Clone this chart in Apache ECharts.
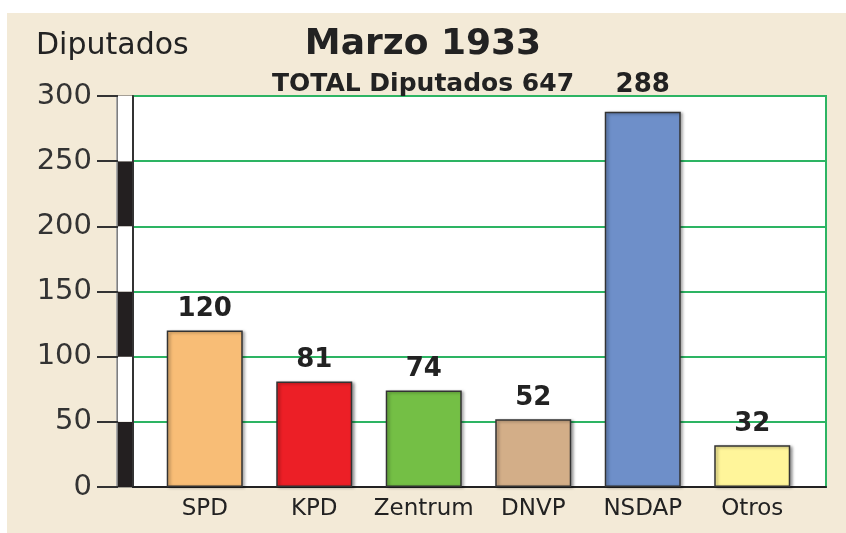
<!DOCTYPE html>
<html>
<head>
<meta charset="utf-8">
<script src="https://cdn.jsdelivr.net/npm/echarts@6/dist/echarts.min.js"></script>
<style>
  html, body { margin: 0; padding: 0; background: #fff; }
  #main { width: 846px; height: 533px; }
</style>
</head>
<body>
<div id="main"></div>
<script>
// datos: elecciones marzo 1933
var partidos = ['SPD', 'KPD', 'Zentrum', 'DNVP', 'NSDAP', 'Otros'];
var diputados = [120, 81, 74, 52, 288, 32];
var colores = ['#f8bd76', '#ec1f26', '#74bf45', '#d3ae88', '#6e8fc9', '#fff59a'];
var yMin = 0, yMax = 300, yPaso = 50;

var fuente = 'DejaVu Sans';
var chart = echarts.init(document.getElementById('main'));
var maximo = Math.max.apply(null, diputados);

var option = {
    backgroundColor: '#fff',
    animation: false,
    graphic: [
        { type: 'rect', z: -10, shape: { x: 7, y: 13, width: 839, height: 520 }, style: { fill: '#f3ead7' } },
        { type: 'rect', z: -9, shape: { x: 116, y: 96, width: 2, height: 391 }, style: { fill: '#aaa' } },
        { type: 'text', left: 36, top: 31, style: { text: 'Diputados', font: '30px "DejaVu Sans"', fill: '#222' } }
    ],
    title: {
        text: 'Marzo 1933',
        subtext: 'TOTAL Diputados 647',
        left: 'center',
        top: 22,
        itemGap: 9,
        textStyle: { fontFamily: fuente, fontWeight: 'bold', fontSize: 36, color: '#222' },
        subtextStyle: { fontFamily: fuente, fontWeight: 'bold', fontSize: 25, color: '#222' }
    },
    grid: [
        // marco del grafico
        { left: 133, right: 20, top: 96, bottom: 46, show: true, backgroundColor: '#fff', borderColor: '#2db463', borderWidth: 2 },
        // barras
        { left: 150, right: 39, top: 96, bottom: 46 },
        // escala rayada
        { left: 118, width: 15, top: 96, bottom: 46, show: true, borderColor: '#555', borderWidth: 1 }
    ],
    xAxis: [
        { gridIndex: 0, type: 'value', min: 0, max: 1, axisLine: { show: true, lineStyle: { color: '#222', width: 2 } },
          axisTick: { show: false }, axisLabel: { show: false }, splitLine: { show: false } },
        { gridIndex: 1, type: 'category', data: partidos, axisLine: { show: false }, axisTick: { show: false },
          axisLabel: { interval: 0, margin: 11, fontFamily: fuente, fontSize: 23, color: '#222' } },
        { gridIndex: 2, type: 'value', min: 0, max: 1, show: false }
    ],
    yAxis: [
        { gridIndex: 0, type: 'value', min: yMin, max: yMax, interval: yPaso,
          axisLine: { show: true, lineStyle: { color: '#333', width: 2 } }, axisTick: { show: false }, axisLabel: { show: false },
          splitLine: { lineStyle: { color: '#2db463', width: 2 } } },
        { gridIndex: 1, type: 'value', min: yMin, max: yMax, interval: yPaso, show: false },
        { gridIndex: 2, type: 'value', min: yMin, max: yMax, interval: yPaso,
          axisLine: { show: false },
          axisTick: { show: true, length: 21, lineStyle: { color: '#333', width: 2 } },
          axisLabel: { margin: 26, fontFamily: fuente, fontSize: 29, color: '#333' },
          splitLine: { show: false },
          splitArea: { show: true, areaStyle: { color: ['#231f20', '#ffffff'] } } }
    ],
    series: [
        {
            type: 'bar',
            xAxisIndex: 1,
            yAxisIndex: 1,
            barWidth: 76,
            data: diputados.map(function (v, i) {
                var d = { value: v, itemStyle: { color: colores[i] } };
                if (v === maximo) d.label = { distance: 13 };
                return d;
            }),
            itemStyle: {
                borderColor: '#333',
                borderWidth: 1.5,
                shadowColor: 'rgba(0,0,0,0.35)',
                shadowBlur: 3,
                shadowOffsetX: 2,
                shadowOffsetY: 1
            },
            label: {
                show: true,
                position: 'top',
                distance: 8,
                fontFamily: fuente,
                fontWeight: 'bold',
                fontSize: 26,
                color: '#222'
            }
        }
    ]
};

chart.setOption(option);
</script>
</body>
</html>
